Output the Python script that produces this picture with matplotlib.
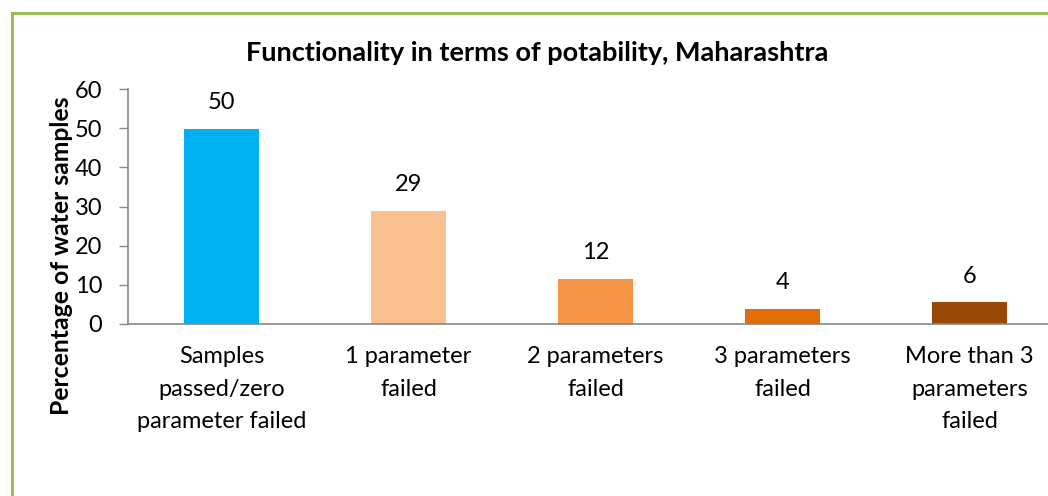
"""Functionality in terms of potability, Maharashtra - bar chart."""

import matplotlib

matplotlib.use("Agg")
import matplotlib.pyplot as plt
from matplotlib.patches import Rectangle

categories = [
    "Samples\npassed/zero\nparameter failed",
    "1 parameter\nfailed",
    "2 parameters\nfailed",
    "3 parameters\nfailed",
    "More than 3\nparameters\nfailed",
]
values = [49.8, 28.9, 11.5, 3.8, 5.5]
value_labels = ["50", "29", "12", "4", "6"]
bar_colors = ["#00B0F0", "#FAC090", "#F79646", "#E46C0A", "#984807"]
y_ticks = [0, 10, 20, 30, 40, 50, 60]

plt.rcParams["font.family"] = ["Lato", "DejaVu Sans"]

W, H = 1048, 496
fig = plt.figure(figsize=(W / 100, H / 100), dpi=100)

# plot area in pixel terms (extends a little past the right edge, as in the source)
left, right = 128, 1063
top, bottom = 89, 324
ax = fig.add_axes([left / W, 1 - bottom / H, (right - left) / W, (bottom - top) / H])

x = list(range(len(categories)))
ax.bar(x, values, width=0.40, color=bar_colors, zorder=2)
for xi, v, lab in zip(x, values, value_labels):
    ax.annotate(lab, (xi, v), xytext=(0, 19), textcoords="offset points",
                ha="center", va="center", fontsize=17, color="#000000")

ax.set_xlim(-0.5, len(categories) - 0.5)
ax.set_ylim(0, 60)
ax.set_yticks(y_ticks)
ax.tick_params(axis="y", labelsize=17, length=6.5, width=1, color="#868686",
               pad=12, labelcolor="#000000")
ax.set_xticks(x)
ax.set_xticklabels(categories, fontsize=17, linespacing=1.68)
ax.tick_params(axis="x", length=0, pad=16)

for side in ("top", "right"):
    ax.spines[side].set_visible(False)
for side in ("left", "bottom"):
    ax.spines[side].set_color("#868686")
    ax.spines[side].set_linewidth(1.2)

fig.text(537 / W, 1 - 53 / H, "Functionality in terms of potability, Maharashtra",
         ha="center", va="center", fontsize=19.5, fontweight="bold")
fig.text(62 / W, 1 - 256 / H, "Percentage of water samples", rotation=90,
         ha="center", va="center", fontsize=17.8, fontweight="bold")

# green outer frame, cut off at the right and bottom edges
fig.patches.append(Rectangle((12 / W, -0.1), 1.2, 1 - 13 / H + 0.1,
                             transform=fig.transFigure, fill=False,
                             edgecolor="#9BBB59", linewidth=2.2))

fig.savefig("out.png", dpi=100)
